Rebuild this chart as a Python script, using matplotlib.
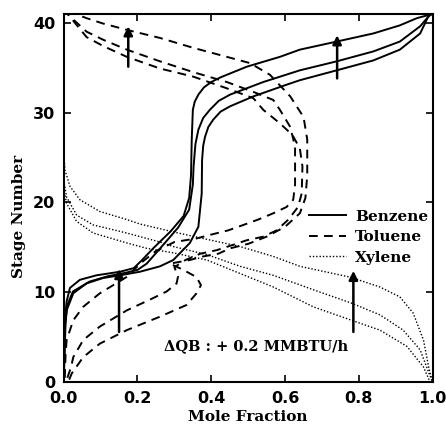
import matplotlib
matplotlib.use("Agg")
import matplotlib.pyplot as plt
from matplotlib.lines import Line2D

# benzene profiles (mole fraction, stage), three reboiler duties
benz_x1 = [0.0, 0.002, 0.0035, 0.008, 0.017, 0.044, 0.089, 0.153, 0.19, 0.21, 0.245, 0.29, 0.325, 0.34, 0.345, 0.347, 0.35, 0.355, 0.365, 0.38, 0.40, 0.424, 0.496, 0.586, 0.640, 0.740, 0.839, 0.911, 0.957, 0.993, 1.0]
benz_y1 = [0.0, 4.0, 7.0, 9.0, 10.5, 11.4, 11.9, 12.3, 12.7, 13.5, 15.0, 16.8, 18.5, 20.5, 23.0, 27.0, 30.3, 31.2, 32.0, 32.8, 33.4, 33.9, 35.1, 36.2, 37.0, 37.9, 38.8, 39.7, 40.5, 40.9, 41.0]
benz_x2 = [0.0, 0.002, 0.004, 0.01, 0.025, 0.07, 0.12, 0.17, 0.2, 0.225, 0.27, 0.31, 0.34, 0.35, 0.352, 0.357, 0.365, 0.378, 0.396, 0.42, 0.451, 0.541, 0.640, 0.740, 0.839, 0.911, 0.966, 0.993, 1.0]
benz_y2 = [0.0, 4.0, 6.5, 8.6, 10.1, 11.2, 11.8, 12.2, 12.5, 13.2, 15.3, 17.2, 19.2, 22.0, 24.0, 26.5, 28.1, 29.4, 30.3, 31.3, 32.0, 33.4, 34.7, 35.7, 36.8, 37.9, 39.6, 40.9, 41.0]
benz_x3 = [0.0, 0.003, 0.005, 0.008, 0.026, 0.062, 0.107, 0.153, 0.207, 0.261, 0.297, 0.342, 0.365, 0.374, 0.375, 0.378, 0.383, 0.392, 0.405, 0.425, 0.451, 0.514, 0.604, 0.640, 0.740, 0.839, 0.911, 0.966, 0.988, 1.0]
benz_y3 = [0.0, 4.0, 6.5, 8.0, 9.9, 11.0, 11.6, 11.9, 12.3, 12.9, 13.6, 15.5, 17.3, 21.0, 24.7, 26.3, 27.3, 28.4, 29.2, 30.1, 30.7, 31.8, 33.1, 33.6, 34.7, 35.8, 37.0, 38.8, 40.7, 41.0]

# toluene profiles
tol_x1 = [0.003, 0.005, 0.008, 0.026, 0.053, 0.098, 0.134, 0.17, 0.21, 0.25, 0.30, 0.36, 0.397, 0.446, 0.487, 0.527, 0.568, 0.604, 0.622, 0.627, 0.627, 0.627, 0.614, 0.586, 0.568, 0.514, 0.442, 0.351, 0.261, 0.171, 0.107, 0.062, 0.03, 0.01]
tol_y1 = [0.5, 3.0, 4.7, 6.9, 8.4, 9.9, 10.8, 11.7, 13.3, 14.6, 15.6, 16.0, 16.4, 16.9, 17.5, 18.1, 18.8, 19.5, 20.3, 22.0, 24.5, 26.2, 28.4, 30.3, 31.4, 32.3, 33.4, 34.5, 35.7, 37.0, 38.1, 39.0, 40.2, 41.0]
tol_x2 = [0.01, 0.02, 0.026, 0.053, 0.098, 0.171, 0.234, 0.279, 0.306, 0.31, 0.30, 0.33, 0.37, 0.415, 0.46, 0.496, 0.541, 0.577, 0.609, 0.635, 0.645, 0.647, 0.64, 0.62, 0.586, 0.541, 0.514, 0.442, 0.351, 0.261, 0.171, 0.107, 0.062, 0.03, 0.01]
tol_y2 = [0.5, 1.7, 2.8, 4.7, 6.2, 8.0, 9.2, 10.1, 11.0, 11.8, 12.8, 13.6, 14.3, 14.7, 15.3, 15.8, 16.2, 16.9, 18.1, 19.5, 21.0, 24.0, 26.0, 27.5, 28.8, 30.3, 31.6, 32.7, 34.0, 34.9, 36.2, 37.4, 38.4, 40.0, 41.0]
tol_x3 = [0.015, 0.022, 0.053, 0.098, 0.171, 0.261, 0.333, 0.36, 0.372, 0.36, 0.324, 0.288, 0.342, 0.378, 0.419, 0.451, 0.5, 0.55, 0.6, 0.64, 0.655, 0.66, 0.66, 0.65, 0.614, 0.559, 0.505, 0.442, 0.351, 0.261, 0.171, 0.107, 0.062, 0.03]
tol_y3 = [0.3, 1.0, 2.8, 4.3, 5.8, 7.3, 8.6, 9.9, 10.8, 11.7, 12.5, 13.2, 13.6, 14.0, 14.3, 14.9, 15.4, 16.2, 17.3, 18.8, 20.5, 23.0, 27.0, 29.5, 31.8, 34.2, 35.5, 36.2, 37.2, 38.3, 39.2, 39.9, 40.5, 41.0]

# xylene profiles
xyl_x1 = [0.0, 0.0035, 0.017, 0.044, 0.098, 0.171, 0.207, 0.30, 0.388, 0.478, 0.568, 0.640, 0.776, 0.857, 0.911, 0.947, 0.975, 0.99, 1.0]
xyl_y1 = [25.5, 23.6, 21.8, 20.3, 19.0, 18.1, 17.6, 16.7, 15.9, 15.1, 14.0, 12.9, 11.7, 10.6, 9.5, 7.7, 4.7, 1.5, 0.0]
xyl_x2 = [0.0, 0.008, 0.035, 0.08, 0.171, 0.261, 0.297, 0.388, 0.478, 0.568, 0.676, 0.78, 0.857, 0.92, 0.966, 0.99, 1.0]
xyl_y2 = [22.5, 20.6, 18.6, 17.5, 16.6, 15.6, 15.1, 14.2, 12.9, 11.9, 10.3, 8.8, 7.5, 5.8, 3.6, 1.0, 0.0]
xyl_x3 = [0.0, 0.008, 0.035, 0.08, 0.171, 0.225, 0.297, 0.388, 0.478, 0.568, 0.676, 0.78, 0.857, 0.93, 0.975, 0.99, 1.0]
xyl_y3 = [21.5, 19.9, 17.9, 16.6, 15.5, 14.9, 14.4, 13.6, 12.1, 10.6, 8.4, 6.9, 5.8, 4.0, 1.7, 0.3, 0.0]

# shift arrows: x, tail stage, head stage
arrow_x = [0.15, 0.175, 0.741, 0.785]
arrow_y0 = [5.6, 35.1, 33.8, 5.6]
arrow_y1 = [12.6, 39.6, 38.6, 12.4]

x_ticks = [0.0, 0.2, 0.4, 0.6, 0.8, 1.0]
y_ticks = [0, 10, 20, 30, 40]

serif = {'family': ['DejaVu Serif'], 'weight': 'bold'}

fig = plt.figure(figsize=(4.46, 4.37), dpi=100)
ax = fig.add_axes([0.1428, 0.1252, 0.8274, 0.8435])

dash = (0, (4.5, 3.2))
dot = (0, (1.0, 1.4))
for xs, ys in [(benz_x1, benz_y1), (benz_x2, benz_y2), (benz_x3, benz_y3)]:
	ax.plot(xs, ys, color='black', lw=1.4, solid_capstyle='round', solid_joinstyle='round')
for xs, ys in [(tol_x1, tol_y1), (tol_x2, tol_y2), (tol_x3, tol_y3)]:
	ax.plot(xs, ys, color='black', lw=1.4, linestyle=dash)
for xs, ys in [(xyl_x1, xyl_y1), (xyl_x2, xyl_y2), (xyl_x3, xyl_y3)]:
	ax.plot(xs, ys, color='black', lw=1.0, linestyle=dot)

for ax_, a0, a1 in zip(arrow_x, arrow_y0, arrow_y1):
	ax.annotate('', xy=(ax_, a1), xytext=(ax_, a0),
		arrowprops=dict(arrowstyle='-|>', lw=1.8, color='black', mutation_scale=13, shrinkA=0, shrinkB=0))

ax.text(0.52, 4.0, '\u0394QB : + 0.2 MMBTU/h', ha='center', va='center', fontsize=10.5, fontdict=serif)

handles = [Line2D([], [], color='black', lw=1.4),
	Line2D([], [], color='black', lw=1.4, linestyle=dash),
	Line2D([], [], color='black', lw=1.0, linestyle=dot)]
ax.legend(handles, ['Benzene', 'Toluene', 'Xylene'], loc='upper left', bbox_to_anchor=(0.665, 0.468),
	frameon=False, borderpad=0, borderaxespad=0, handlelength=2.4, handletextpad=0.6, labelspacing=0.42,
	prop={'family': 'DejaVu Serif', 'weight': 'bold', 'size': 11})

ax.set_xlim(0, 1)
ax.set_ylim(0, 41)
ax.set_xticks(x_ticks)
ax.set_yticks(y_ticks)
ax.set_xticklabels(['%.1f' % v for v in x_ticks])
ax.tick_params(direction='in', length=5, width=1.2, top=True, right=True, labelsize=11.5, pad=6)
for lbl in ax.get_xticklabels() + ax.get_yticklabels():
	lbl.set_fontweight('bold')
for sp in ax.spines.values():
	sp.set_linewidth(1.5)

ax.set_xlabel('Mole Fraction', fontsize=11, fontdict=serif, labelpad=3)
ax.set_ylabel('Stage Number', fontsize=11, fontdict=serif)
ax.yaxis.set_label_coords(-0.103, 0.45)

fig.savefig('out.png', dpi=100)
